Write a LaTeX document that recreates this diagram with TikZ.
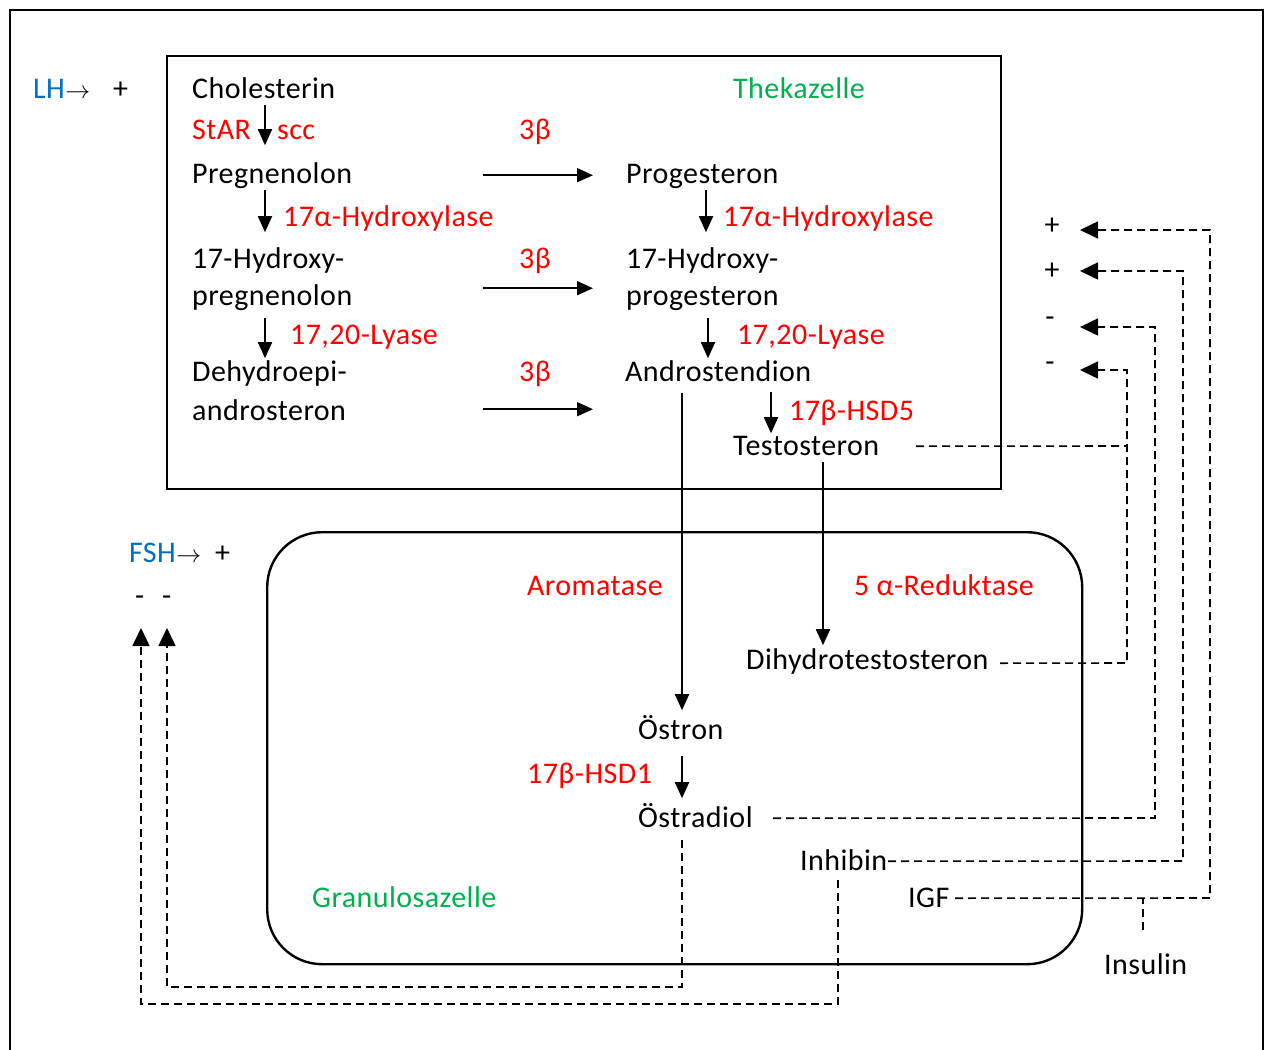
\documentclass[tikz,border=0pt]{standalone}
\usepackage{fontspec}
\setmainfont{Carlito}[LetterSpace=1.5]
\usetikzlibrary{arrows.meta}
\definecolor{enzred}{RGB}{255,0,0}
\definecolor{hormblue}{RGB}{0,112,192}
\definecolor{cellgreen}{RGB}{0,176,80}
\begin{document}
\begin{tikzpicture}[x=1pt,y=-1pt,
  txt/.style={inner sep=0pt, anchor=base west, text height=19pt, text depth=0pt, font=\fontsize{30}{36}\selectfont},
  enz/.style={txt, text=enzred},
  sign/.style={inner sep=0pt, font=\fontsize{30}{36}\selectfont},
  arr/.style={line width=1.8pt, -{Triangle[length=16pt,width=14pt]}},
  fb/.style={line width=1.6pt, dash pattern=on 8pt off 5pt},
  fbarr/.style={fb, -{Triangle[length=18pt,width=17pt]}}
]
\useasboundingbox (0,0) rectangle (1267,1050);
\draw[line width=2.2pt] (10,1060) -- (10,10) -- (1263,10) -- (1263,1060);

% cells
\node[draw,line width=1.8pt,minimum width=834pt,minimum height=433pt,inner sep=0pt,anchor=north west] (theca) at (166,55) {};
\node[draw,line width=2.4pt,rounded corners=55pt,minimum width=815pt,minimum height=432pt,inner sep=0pt,anchor=north west] (gran) at (266,531) {};

% hormones
\node[txt,text=hormblue] (lh) at (33,98) {LH};
\node[txt] (lharrow) at (lh.base east) {$\rightarrow$};
\node[txt] (lhplus) at (113,98) {+};
\node[txt,text=hormblue] (fsh) at (129,562) {FSH};
\node[txt] (fsharrow) at (fsh.base east) {$\rightarrow$};
\node[txt] (fshplus) at (215,562) {+};
\node[txt] (m1) at (135,605) {-};
\node[txt] (m2) at (162,605) {-};

% theca cell
\node[txt] (chol) at (192,98) {Cholesterin};
\node[txt,text=cellgreen] (theka) at (733,98) {Thekazelle};
\node[enz] (star) at (192,139) {StAR};
\node[enz] (scc) at (277,139) {scc};
\node[enz] (b1) at (519,139) {3β};
\node[txt] (preg) at (192,183) {Pregnenolon};
\node[txt] (prog) at (626,183) {Progesteron};
\node[enz] (hyd1) at (283,226) {17α-Hydroxylase};
\node[enz] (hyd2) at (723,226) {17α-Hydroxylase};
\node[txt] (ohpreg1) at (192,268) {17-Hydroxy-};
\node[txt] (ohpreg2) at (192,305) {pregnenolon};
\node[enz] (b2) at (519,268) {3β};
\node[txt] (ohprog1) at (626,268) {17-Hydroxy-};
\node[txt] (ohprog2) at (626,305) {progesteron};
\node[enz] (lya1) at (290,344) {17,20-Lyase};
\node[enz] (lya2) at (737,344) {17,20-Lyase};
\node[txt] (dhea1) at (192,381) {Dehydroepi-};
\node[txt] (dhea2) at (192,420) {androsteron};
\node[enz] (b3) at (519,381) {3β};
\node[txt] (andro) at (625,381) {Androstendion};
\node[enz] (hsd5) at (789,420) {17β-HSD5};
\node[txt] (testo) at (733,455) {Testosteron};

% granulosa cell
\node[enz] (arom) at (527,595) {Aromatase};
\node[enz] (red) at (854,595) {5 α-Reduktase};
\node[txt] (dht) at (746,669) {Dihydrotestosteron};
\node[txt] (oestron) at (638,739) {Östron};
\node[enz] (hsd1) at (527,783) {17β-HSD1};
\node[txt] (oestradiol) at (638,827) {Östradiol};
\node[txt] (inhibin) at (800,870) {Inhibin};
\node[txt,text=cellgreen] (granlabel) at (312,907) {Granulosazelle};
\node[txt] (igf) at (908,907) {IGF};
\node[txt] (insulin) at (1104,974) {Insulin};

% feedback signs
\node[sign] (p1) at (1052,226) {+};
\node[sign] (p2) at (1052,271) {+};
\node[sign] (n1) at (1050,322) {-};
\node[sign] (n2) at (1050,367) {-};
\coordinate (tp1) at (1080,230);
\coordinate (tp2) at (1080,271);
\coordinate (tn1) at (1080,327);
\coordinate (tn2) at (1080,370);
\coordinate (tm1) at (141,628);
\coordinate (tm2) at (167,628);

% pathway arrows
\draw[arr] (chol.south west) ++(73,7) -- ++(0,40);
\draw[arr] (preg.south west) ++(73,7) -- ++(0,42);
\draw[arr] (prog.south west) ++(80,7) -- ++(0,42);
\draw[arr] (ohpreg2.south west) ++(73,13) -- ++(0,40);
\draw[arr] (ohprog2.south west) ++(82,13) -- ++(0,40);
\draw[arr] (andro.south west) ++(146,11) -- ++(0,41);
\draw[arr] (prog.south west) ++(-143,-8) -- ++(110,0);
\draw[arr] (ohprog1.south west) ++(-143,20) -- ++(110,0);
\draw[arr] (andro.south west) ++(-142,28) -- ++(110,0);
\draw[arr] (andro.south west) ++(57,12) -- ++(0,317);
\draw[arr] (testo.south west) ++(90,7) -- ++(0,183);
\draw[arr] (oestron.south west) ++(44,17) -- ++(0,42);

% feedback connectors
\draw[fb] (testo.south west) ++(183,-9) -- (1127,446);
\draw[fbarr] (dht.south west) ++(254,-6) -- (1127,663) -- (1127,370) -- (tn2);
\draw[fbarr] (oestradiol.south west) ++(135,-9) -- (1155,818) -- (1155,327) -- (tn1);
\draw[fbarr] (inhibin.south west) ++(88,-9) -- (1183,861) -- (1183,271) -- (tp2);
\draw[fbarr] (igf.south west) ++(47,-9) -- (1210,898) -- (1210,230) -- (tp1);
\draw[fb] (insulin.south west) ++(39,-44) -- ++(0,-32);
\draw[fbarr] (oestradiol.south west) ++(44,13) -- (682,987) -- (167,987) -- (tm2);
\draw[fbarr] (inhibin.south west) ++(38,10) -- (838,1004) -- (141,1004) -- (tm1);
\end{tikzpicture}
\end{document}
